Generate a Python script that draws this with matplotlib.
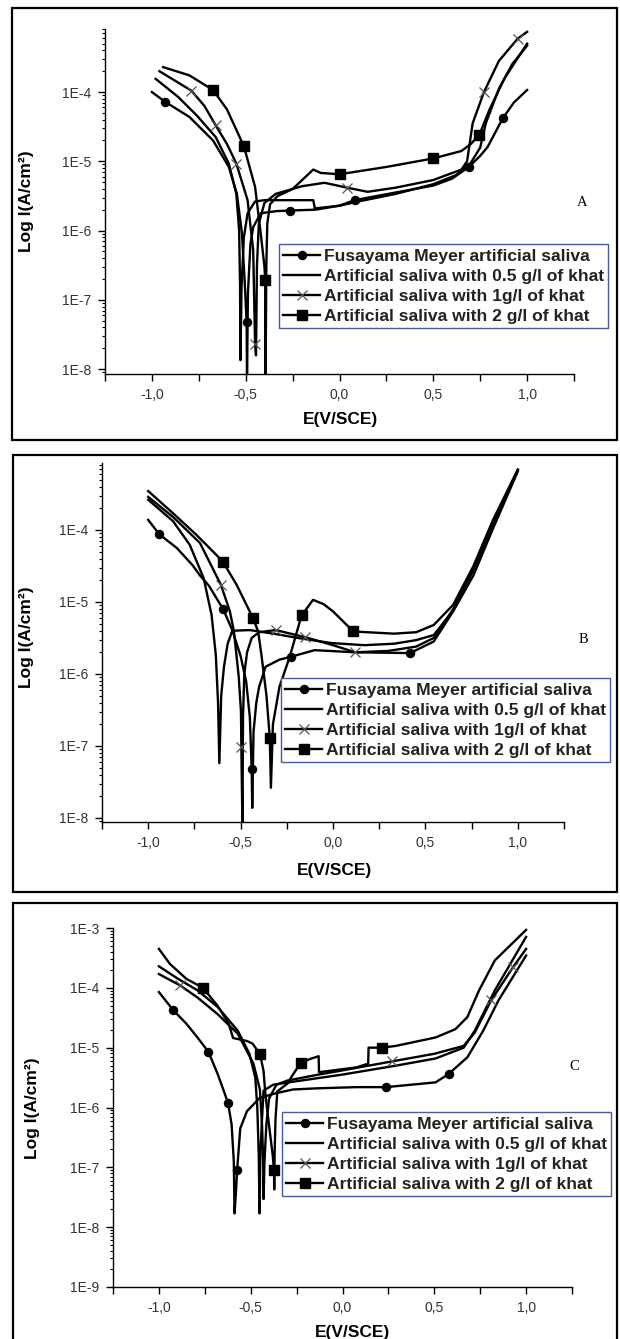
import matplotlib
matplotlib.use('Agg')
import matplotlib.pyplot as plt
from matplotlib.patches import Rectangle
from matplotlib.ticker import LogLocator, NullFormatter

plt.rcParams['font.family'] = ['Liberation Sans', 'DejaVu Sans']

# ---- labels / ticks ----
series_labels = ['Fusayama Meyer artificial saliva',
                 'Artificial saliva with 0.5 g/l of khat',
                 'Artificial saliva with 1g/l of khat',
                 'Artificial saliva with 2 g/l of khat']
xtick_vals = [-1.25, -1.0, -0.75, -0.5, -0.25, 0.0, 0.25, 0.5, 0.75, 1.0, 1.25]
xtick_text = ['', '-1,0', '', '-0,5', '', '0,0', '', '0,5', '', '1,0', '']
ytick_ab = [1e-8, 1e-7, 1e-6, 1e-5, 1e-4]
ytick_ab_text = ['1E-8', '1E-7', '1E-6', '1E-5', '1E-4']
ytick_c = [1e-9, 1e-8, 1e-7, 1e-6, 1e-5, 1e-4, 1e-3]
ytick_c_text = ['1E-9', '1E-8', '1E-7', '1E-6', '1E-5', '1E-4', '1E-3']

# ---- panel A ----
a_fm_E = [-1.00, -0.93, -0.80, -0.674, -0.59, -0.547, -0.52, -0.505, -0.495, -0.493, -0.488, -0.475, -0.46,
          -0.42, -0.337, -0.263, -0.137, -0.13, 0.0, 0.08, 0.30, 0.50, 0.60, 0.69, 0.75, 0.79, 0.87, 0.93, 1.00]
a_fm_I = [1.0e-4, 7.24e-5, 4.37e-5, 2.0e-5, 8.3e-6, 3.39e-6, 9.1e-7, 1.74e-7, 4.8e-8, 7.9e-9, 1.26e-7, 6.3e-7, 1.12e-6,
          1.78e-6, 1.91e-6, 1.95e-6, 2.0e-6, 2.09e-6, 2.29e-6, 2.75e-6, 3.55e-6, 4.47e-6, 5.62e-6, 8.3e-6, 1.2e-5,
          1.62e-5, 4.17e-5, 7.08e-5, 1.07e-4]
a_fm_mk = [1, 8, 15, 19, 23, 26]

a_05_E = [-0.98, -0.86, -0.76, -0.66, -0.59, -0.55, -0.535, -0.53, -0.528, -0.522, -0.51, -0.49, -0.45, -0.40,
          -0.14, -0.13, 0.0, 0.10, 0.30, 0.50, 0.62, 0.70, 0.75, 0.78, 0.85, 0.92, 1.00]
a_05_I = [1.55e-4, 8.5e-5, 4.57e-5, 2.24e-5, 9.3e-6, 3.39e-6, 1.0e-6, 1.58e-7, 1.35e-8, 1.58e-7, 7.9e-7, 1.78e-6,
          2.63e-6, 2.75e-6, 2.75e-6, 2.0e-6, 2.29e-6, 2.63e-6, 3.39e-6, 4.68e-6, 6.3e-6, 9.5e-6, 1.58e-5, 3.55e-5,
          1.12e-4, 2.51e-4, 4.68e-4]

a_1_E = [-0.96, -0.79, -0.72, -0.66, -0.60, -0.55, -0.49, -0.46, -0.45, -0.445, -0.44, -0.43, -0.40, -0.34, -0.20,
         -0.08, 0.04, 0.15, 0.30, 0.50, 0.65, 0.68, 0.71, 0.77, 0.85, 0.95, 1.00]
a_1_I = [2.0e-4, 1.05e-4, 6.3e-5, 3.31e-5, 1.78e-5, 9.3e-6, 2.75e-6, 5.2e-7, 2.34e-8, 1.58e-8, 3.16e-7, 1.26e-6,
         2.51e-6, 3.39e-6, 4.37e-6, 4.9e-6, 4.17e-6, 3.63e-6, 4.17e-6, 5.37e-6, 7.6e-6, 1.0e-5, 3.55e-5, 1.0e-4,
         2.82e-4, 5.9e-4, 7.4e-4]
a_1_mk = [1, 3, 5, 8, 16, 23, 25]

a_2_E = [-0.94, -0.80, -0.674, -0.60, -0.51, -0.45, -0.42, -0.40, -0.396, -0.394, -0.39, -0.385, -0.37, -0.33,
         -0.25, -0.14, -0.10, 0.0, 0.25, 0.50, 0.65, 0.70, 0.745, 0.80, 0.88, 1.00]
a_2_I = [2.29e-4, 1.74e-4, 1.07e-4, 5.62e-5, 1.66e-5, 4.27e-6, 9.1e-7, 3.02e-7, 1.95e-7, 7.9e-9, 3.16e-7, 1.26e-6,
         2.4e-6, 3.16e-6, 3.98e-6, 7.6e-6, 6.8e-6, 6.5e-6, 8.3e-6, 1.1e-5, 1.41e-5, 1.78e-5, 2.4e-5, 5.62e-5,
         1.58e-4, 5.0e-4]
a_2_mk = [2, 4, 8, 17, 19, 22]

# ---- panel B ----
b_fm_E = [-1.0, -0.94, -0.845, -0.76, -0.72, -0.67, -0.594, -0.545, -0.50, -0.47, -0.45, -0.44, -0.437, -0.43,
          -0.415, -0.40, -0.365, -0.29, -0.225, -0.10, 0.12, 0.417, 0.545, 0.65, 0.76, 0.866, 1.0]
b_fm_I = [1.38e-4, 8.7e-5, 5.62e-5, 3.24e-5, 2.34e-5, 1.66e-5, 7.9e-6, 4.07e-6, 1.78e-6, 7.9e-7, 2.51e-7, 4.8e-8,
          1.38e-8, 1.58e-7, 3.98e-7, 6.6e-7, 1.26e-6, 1.58e-6, 1.74e-6, 2.14e-6, 2.0e-6, 1.95e-6, 2.82e-6, 7.4e-6,
          2.34e-5, 1.05e-4, 6.5e-4]
b_fm_mk = [1, 6, 11, 18, 21]

b_05_E = [-1.0, -0.865, -0.775, -0.70, -0.657, -0.634, -0.622, -0.615, -0.605, -0.59, -0.57, -0.545, -0.45, -0.30,
          -0.19, -0.01, 0.17, 0.33, 0.45, 0.545, 0.65, 0.76, 0.866, 1.0]
b_05_I = [2.63e-4, 1.32e-4, 6.2e-5, 2.14e-5, 6.6e-6, 1.82e-6, 3.98e-7, 5.75e-8, 5.0e-7, 1.26e-6, 2.63e-6, 3.98e-6,
          4.07e-6, 3.55e-6, 3.16e-6, 2.69e-6, 2.51e-6, 2.63e-6, 2.95e-6, 3.47e-6, 7.6e-6, 2.82e-5, 1.26e-4, 6.8e-4]

b_1_E = [-1.0, -0.865, -0.72, -0.607, -0.558, -0.536, -0.51, -0.498, -0.496, -0.49, -0.487, -0.48, -0.465, -0.44,
         -0.40, -0.31, -0.15, 0.0, 0.12, 0.30, 0.45, 0.545, 0.65, 0.76, 0.866, 1.0]
b_1_I = [2.88e-4, 1.51e-4, 6.6e-5, 1.74e-5, 7.4e-6, 3.89e-6, 9.1e-7, 3.02e-7, 9.8e-8, 7.9e-9, 2.51e-7, 1.0e-6,
         2.0e-6, 3.16e-6, 3.8e-6, 4.07e-6, 3.24e-6, 2.51e-6, 2.0e-6, 2.09e-6, 2.4e-6, 3.16e-6, 7.9e-6, 2.82e-5,
         1.2e-4, 6.8e-4]
b_1_mk = [3, 8, 15, 16, 18]

b_2_E = [-1.0, -0.865, -0.738, -0.63, -0.594, -0.522, -0.468, -0.432, -0.405, -0.387, -0.36, -0.342, -0.336, -0.325,
         -0.29, -0.234, -0.17, -0.108, -0.05, 0.0, 0.11, 0.33, 0.45, 0.545, 0.65, 0.76, 0.866, 1.0]
b_2_I = [3.47e-4, 1.7e-4, 8.5e-5, 4.47e-5, 3.55e-5, 1.74e-5, 9.1e-6, 5.9e-6, 3.89e-6, 1.82e-6, 5.0e-7, 1.29e-7,
         2.63e-8, 2.0e-7, 6.6e-7, 1.74e-6, 6.5e-6, 1.07e-5, 9.3e-6, 7.4e-6, 3.89e-6, 3.63e-6, 3.8e-6, 4.79e-6,
         9.1e-6, 3.16e-5, 1.38e-4, 6.9e-4]
b_2_mk = [4, 7, 11, 16, 20]

# ---- panel C ----
c_fm_E = [-1.0, -0.923, -0.85, -0.79, -0.73, -0.68, -0.647, -0.623, -0.604, -0.592, -0.588, -0.58, -0.574, -0.557,
          -0.52, -0.45, -0.36, -0.27, -0.14, 0.075, 0.237, 0.507, 0.578, 0.68, 0.766, 0.85, 1.0]
c_fm_I = [8.5e-5, 4.27e-5, 2.51e-5, 1.48e-5, 8.5e-6, 3.63e-6, 1.91e-6, 1.17e-6, 5.2e-7, 1.26e-7, 1.7e-8, 4.0e-8,
          8.9e-8, 4.47e-7, 8.7e-7, 1.45e-6, 1.74e-6, 2.0e-6, 2.09e-6, 2.19e-6, 2.19e-6, 2.63e-6, 3.63e-6, 6.9e-6,
          1.91e-5, 6.2e-5, 3.47e-4]
c_fm_mk = [1, 4, 7, 12, 20, 22]

c_05_E = [-1.0, -0.895, -0.79, -0.68, -0.57, -0.507, -0.475, -0.464, -0.456, -0.452, -0.448, -0.44, -0.43, -0.378,
          -0.25, 0.0, 0.29, 0.507, 0.66, 0.72, 0.83, 1.0]
c_05_I = [2.29e-4, 1.41e-4, 9.1e-5, 4.79e-5, 1.91e-5, 7.9e-6, 3.16e-6, 1.0e-6, 1.58e-7, 1.7e-8, 1.26e-7, 5.2e-7,
          1.91e-6, 2.4e-6, 2.75e-6, 3.55e-6, 5.0e-6, 6.6e-6, 1.0e-5, 1.91e-5, 9.1e-5, 7.1e-4]

c_1_E = [-1.0, -0.885, -0.79, -0.68, -0.57, -0.485, -0.45, -0.438, -0.432, -0.43, -0.425, -0.415, -0.40, -0.36,
         -0.30, -0.13, 0.0, 0.27, 0.50, 0.66, 0.72, 0.81, 0.93, 1.0]
c_1_I = [1.7e-4, 1.1e-4, 6.9e-5, 3.63e-5, 1.7e-5, 5.4e-6, 2.0e-6, 5.0e-7, 1.26e-7, 2.95e-8, 1.26e-7, 5.0e-7,
         1.41e-6, 2.4e-6, 2.82e-6, 3.55e-6, 4.17e-6, 5.9e-6, 7.9e-6, 1.07e-5, 1.78e-5, 6.2e-5, 2.24e-4, 4.47e-4]
c_1_mk = [1, 17, 21, 22]

c_2_E = [-1.0, -0.94, -0.85, -0.76, -0.68, -0.62, -0.596, -0.52, -0.49, -0.449, -0.43, -0.42, -0.40, -0.38, -0.373,
         -0.372, -0.37, -0.365, -0.355, -0.30, -0.27, -0.227, -0.175, -0.13, -0.128, 0.0, 0.075, 0.14, 0.142, 0.216,
         0.29, 0.507, 0.615, 0.68, 0.744, 0.83, 1.0]
c_2_I = [4.47e-4, 2.51e-4, 1.41e-4, 1.0e-4, 5.0e-5, 2.51e-5, 1.45e-5, 1.29e-5, 1.17e-5, 7.8e-6, 4.07e-6, 1.66e-6,
         5.0e-7, 1.58e-7, 8.9e-8, 4.27e-8, 1.58e-7, 6.3e-7, 1.86e-6, 2.51e-6, 3.55e-6, 5.6e-6, 6.5e-6, 7.2e-6,
         3.89e-6, 4.37e-6, 4.68e-6, 5.4e-6, 1.0e-5, 1.0e-5, 1.07e-5, 1.48e-5, 2.04e-5, 3.24e-5, 9.1e-5, 2.88e-4,
         9.3e-4]
c_2_mk = [3, 9, 14, 21, 29]

# ---- styling ----
styles = [dict(marker='o', markersize=5.8, markerfacecolor='black', markeredgecolor='black'),
          dict(),
          dict(marker='x', markersize=7.5, markeredgecolor='#555555', markeredgewidth=0.9),
          dict(marker='s', markersize=7, markerfacecolor='black', markeredgecolor='black')]

W, H = 620, 1339
fig = plt.figure(figsize=(W / 100, H / 100), dpi=100)


def px(x, y):
    return x / W, 1 - y / H


panels = [
    dict(box=(105, 29, 574, 374), ylim=(10 ** -8.07, 10 ** -3.09), yt=ytick_ab, ytl=ytick_ab_text,
         data=[(a_fm_E, a_fm_I, a_fm_mk), (a_05_E, a_05_I, None), (a_1_E, a_1_I, a_1_mk), (a_2_E, a_2_I, a_2_mk)],
         frame=(12, 8, 617, 440), leg=(279, 244), letter=('A', 582, 202), ylab=(27, 201), xlab=(340, 420)),
    dict(box=(102, 463, 564, 822), ylim=(10 ** -8.056, 10 ** -3.07), yt=ytick_ab, ytl=ytick_ab_text,
         data=[(b_fm_E, b_fm_I, b_fm_mk), (b_05_E, b_05_I, None), (b_1_E, b_1_I, b_1_mk), (b_2_E, b_2_I, b_2_mk)],
         frame=(13, 455, 617, 892), leg=(281, 678), letter=('B', 583, 639), ylab=(27, 637), xlab=(335, 870)),
    dict(box=(113, 928, 572, 1287), ylim=(1e-9, 1e-3), yt=ytick_c, ytl=ytick_c_text,
         data=[(c_fm_E, c_fm_I, c_fm_mk), (c_05_E, c_05_I, None), (c_1_E, c_1_I, c_1_mk), (c_2_E, c_2_I, c_2_mk)],
         frame=(13, 903, 617, 1380), leg=(282, 1112), letter=('C', 574, 1066), ylab=(33, 1108), xlab=(352, 1332)),
]

for p in panels:
    l, t, r, b = p['box']
    ax = fig.add_axes([l / W, 1 - b / H, (r - l) / W, (b - t) / H])
    handles = []
    for (E, I, mk), st in zip(p['data'], styles):
        kw = dict(st)
        if mk is not None:
            kw['markevery'] = mk
        line, = ax.plot(E, I, color='black', lw=1.7, **kw)
        handles.append(line)
    ax.set_yscale('log')
    ax.set_xlim(-1.25, 1.25)
    ax.set_ylim(*p['ylim'])
    ax.set_xticks(xtick_vals)
    ax.set_xticklabels(xtick_text)
    ax.set_yticks(p['yt'])
    ax.set_yticklabels(p['ytl'])
    ax.yaxis.set_minor_locator(LogLocator(base=10, subs=range(2, 10), numticks=20))
    ax.yaxis.set_minor_formatter(NullFormatter())
    for s in ('top', 'right'):
        ax.spines[s].set_visible(False)
    for s in ('left', 'bottom'):
        ax.spines[s].set_linewidth(1.0)
    ax.tick_params(axis='both', which='major', direction='out', length=5, width=1.0,
                   labelsize=10, labelcolor='#333333', pad=5)
    ax.tick_params(axis='y', which='minor', direction='out', length=2.5, width=0.8)
    ax.patch.set_alpha(0)

    fl, ft, fr, fb = p['frame']
    fig.patches.append(Rectangle(px(fl, fb), (fr - fl) / W, (fb - ft) / H, transform=fig.transFigure,
                                 fill=False, edgecolor='black', linewidth=1.6, clip_on=False))

    lx, ly = px(*p['leg'])
    leg = ax.legend(handles, series_labels, loc='upper left', bbox_to_anchor=(lx, ly),
                    bbox_transform=fig.transFigure, numpoints=1, fancybox=False, framealpha=1,
                    edgecolor='#4a58a8', borderpad=0.25, borderaxespad=0, handlelength=2.1,
                    handletextpad=0.2, labelspacing=0.28, prop=dict(weight='bold', size=12.6))
    leg.get_frame().set_linewidth(1.0)
    for txt in leg.get_texts():
        txt.set_color('#222222')

    letter, tx, ty = p['letter']
    fig.text(*px(tx, ty), letter, family='Liberation Serif', fontsize=10.5, ha='center', va='center')
    fig.text(*px(*p['ylab']), 'Log I(A/cm²)', rotation=90, fontsize=12.5, fontweight='bold',
             ha='center', va='center')
    fig.text(*px(*p['xlab']), 'E(V/SCE)', fontsize=12.5, fontweight='bold', ha='center', va='center')

fig.savefig('out.png', dpi=100)
